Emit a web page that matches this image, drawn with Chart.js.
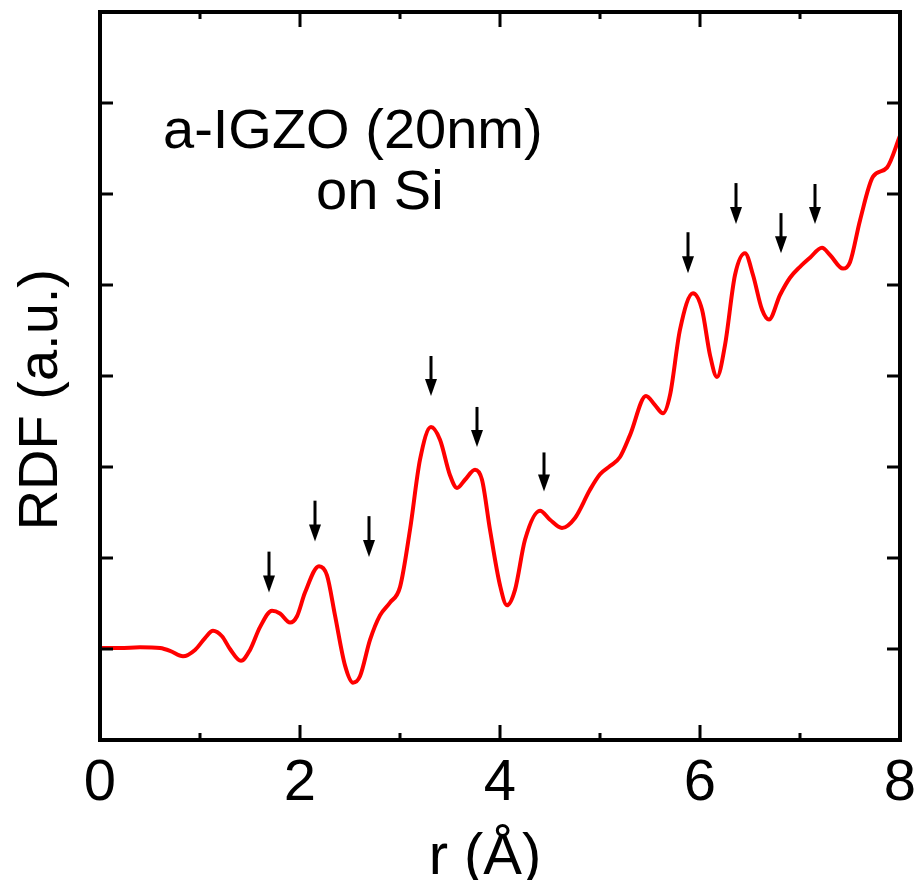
<!DOCTYPE html>
<html>
<head>
<meta charset="utf-8">
<script src="https://cdn.jsdelivr.net/npm/chart.js@4.4.1/dist/chart.umd.min.js"></script>
<style>
  html, body { margin: 0; padding: 0; background: #fff; }
  #wrap { width: 917px; height: 880px; }
</style>
</head>
<body>
<div id="wrap"><canvas id="rdfChart" width="917" height="880"></canvas></div>
<script>
// r (Å) and RDF (a.u.)
var rValues = [0.0, 0.2, 0.4, 0.6, 0.7, 0.83, 0.95, 1.05, 1.13, 1.22, 1.3, 1.41, 1.5, 1.6, 1.72, 1.8,
  1.9, 1.97, 2.05, 2.19, 2.27, 2.35, 2.45, 2.53, 2.6, 2.7, 2.8, 2.9, 3.0, 3.1, 3.2, 3.31,
  3.4, 3.5, 3.57, 3.65, 3.75, 3.82, 3.9, 4.0, 4.07, 4.15, 4.25, 4.4, 4.5, 4.62, 4.75, 4.9,
  5.0, 5.1, 5.2, 5.3, 5.46, 5.55, 5.63, 5.7, 5.8, 5.93, 6.02, 6.1, 6.17, 6.25, 6.35, 6.45,
  6.53, 6.62, 6.69, 6.8, 6.9, 7.0, 7.1, 7.22, 7.3, 7.43, 7.5, 7.6, 7.73, 7.87, 8.0];
var rdfValues = [1.01, 1.01, 1.02, 1.01, 0.98, 0.92, 0.99, 1.12, 1.20, 1.14, 1.00, 0.87, 0.99, 1.24, 1.42, 1.39,
  1.29, 1.36, 1.62, 1.91, 1.81, 1.37, 0.82, 0.63, 0.70, 1.10, 1.37, 1.51, 1.68, 2.31, 3.08, 3.44,
  3.30, 2.91, 2.77, 2.86, 2.97, 2.86, 2.31, 1.70, 1.48, 1.65, 2.20, 2.52, 2.42, 2.33, 2.44, 2.75,
  2.92, 3.01, 3.11, 3.35, 3.78, 3.68, 3.59, 3.79, 4.51, 4.91, 4.73, 4.23, 3.99, 4.34, 5.11, 5.35,
  5.11, 4.73, 4.62, 4.89, 5.08, 5.20, 5.30, 5.41, 5.33, 5.18, 5.25, 5.71, 6.19, 6.29, 6.64];

var xTicks = [0, 1, 2, 3, 4, 5, 6, 7, 8];
var xTickLabels = ['0', '', '2', '', '4', '', '6', '', '8'];
var yTicks = [1, 2, 3, 4, 5, 6, 7];

// peak markers: position and arrow tail / tip heights
var arrowR    = [1.69, 2.15, 2.69, 3.31, 3.77, 4.44, 5.88, 6.36, 6.81, 7.15];
var arrowTail = [2.07, 2.63, 2.46, 4.22, 3.66, 3.16, 5.58, 6.12, 5.79, 6.11];
var arrowTip  = [1.62, 2.18, 2.01, 3.78, 3.22, 2.73, 5.13, 5.67, 5.35, 5.67];

var FONT = '"Liberation Sans", Arial, sans-serif';

var points = rValues.map(function (r, i) { return { x: r, y: rdfValues[i] }; });

var framePlugin = {
  id: 'frame',
  afterDatasetsDraw: function (chart) {
    var ctx = chart.ctx;
    var a = chart.chartArea;
    var xs = chart.scales.x, ys = chart.scales.y;
    ctx.save();

    // box
    ctx.strokeStyle = '#000';
    ctx.lineWidth = 4;
    ctx.strokeRect(a.left, a.top, a.right - a.left, a.bottom - a.top);

    // inward ticks
    ctx.lineWidth = 3;
    ctx.beginPath();
    xTicks.forEach(function (v) {
      var px = xs.getPixelForValue(v);
      var len = v % 2 === 0 ? 15 : 7;
      ctx.moveTo(px, a.bottom); ctx.lineTo(px, a.bottom - len);
      ctx.moveTo(px, a.top); ctx.lineTo(px, a.top + len);
    });
    yTicks.forEach(function (v) {
      var py = ys.getPixelForValue(v);
      ctx.moveTo(a.left, py); ctx.lineTo(a.left + 13, py);
      ctx.moveTo(a.right, py); ctx.lineTo(a.right - 13, py);
    });
    ctx.stroke();

    // arrows
    ctx.fillStyle = '#000';
    ctx.lineWidth = 3;
    arrowR.forEach(function (r, i) {
      var px = xs.getPixelForValue(r);
      var y0 = ys.getPixelForValue(arrowTail[i]);
      var y1 = ys.getPixelForValue(arrowTip[i]);
      var head = 17;
      ctx.beginPath();
      ctx.moveTo(px, y0); ctx.lineTo(px, y1 - head + 2);
      ctx.stroke();
      ctx.beginPath();
      ctx.moveTo(px - 6, y1 - head);
      ctx.lineTo(px + 6, y1 - head);
      ctx.lineTo(px, y1);
      ctx.closePath();
      ctx.fill();
    });

    // sample label
    ctx.font = '56px ' + FONT;
    ctx.textBaseline = 'alphabetic';
    ctx.textAlign = 'left';
    ctx.fillText('a-IGZO (20nm)', xs.getPixelForValue(0.63), ys.getPixelForValue(6.51));
    ctx.fillText('on Si', xs.getPixelForValue(2.16), ys.getPixelForValue(5.83));

    // x axis title
    ctx.textAlign = 'center';
    ctx.font = '58px ' + FONT;
    ctx.fillText('r (Å)', xs.getPixelForValue(3.85), a.bottom + 134);

    // y axis title
    ctx.font = '56px ' + FONT;
    ctx.translate(a.left - 58, ys.getPixelForValue(3.74));
    ctx.rotate(-Math.PI / 2);
    ctx.textBaseline = 'middle';
    ctx.fillText('RDF (a.u.)', 0, 0);
    ctx.restore();
  }
};

var chart = new Chart(document.getElementById('rdfChart').getContext('2d'), {
  type: 'line',
  data: {
    datasets: [{
      data: points,
      borderColor: '#ff0000',
      borderWidth: 4,
      pointRadius: 0,
      fill: false,
      cubicInterpolationMode: 'monotone'
    }]
  },
  options: {
    responsive: false,
    animation: false,
    layout: { padding: { left: 0, top: 12, right: 0, bottom: 0 } },
    plugins: { legend: { display: false }, tooltip: { enabled: false } },
    scales: {
      x: {
        type: 'linear',
        min: 0, max: 8,
        afterFit: function (s) { s.height = 140; s.paddingRight = 17; s.paddingLeft = 0; },
        afterBuildTicks: function (s) { s.ticks = xTicks.map(function (v) { return { value: v }; }); },
        ticks: {
          autoSkip: false,
          maxRotation: 0,
          padding: 9,
          color: '#000',
          font: { family: FONT, size: 58 },
          callback: function (v) { return xTickLabels[xTicks.indexOf(v)]; }
        },
        grid: { display: false, drawTicks: false },
        border: { display: false },
        title: { display: false }
      },
      y: {
        min: 0, max: 8,
        afterFit: function (s) { s.width = 100; },
        ticks: { display: false },
        grid: { display: false, drawTicks: false },
        border: { display: false }
      }
    }
  },
  plugins: [framePlugin]
});
</script>
</body>
</html>
